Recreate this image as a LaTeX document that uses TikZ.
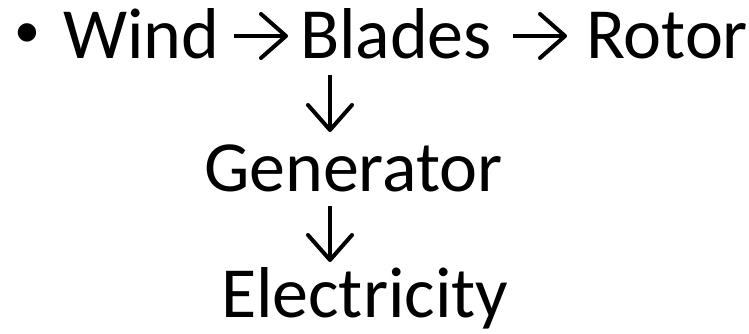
\documentclass[tikz,border=0pt]{standalone}
\usepackage{fontspec}
\setmainfont{Carlito}
\usetikzlibrary{arrows.meta}
\begin{document}
\begin{tikzpicture}[x=1pt,y=-1pt,
  txt/.style={anchor=base west,inner sep=0pt,outer sep=0pt,text height=46pt,text depth=0pt,font=\fontsize{72}{72}\selectfont},
  arr/.style={line width=4pt,-{Straight Barb[length=25pt,width=44pt,line width=4pt,round]}}]
\useasboundingbox (0,0) rectangle (749,334);
\node[txt,font=\fontsize{52}{52}\selectfont] (bul) at (14,48) {•};
\node[txt] (wind) at (63,59) {Wind};
\node[txt] (blades) at (300,59) {Blades};
\node[txt] (rotor) at (586,59) {Rotor};
\node[txt] (gen) at (204,191) {Generator};
\node[txt] (elec) at (221,317) {Electricity};
\coordinate (d1) at (330,75);
\draw[arr,shorten <=15pt,shorten >=12pt] (wind.east) -- (blades.west);
\draw[arr,shorten <=21pt,shorten >=19pt] (blades.east) -- (rotor.west);
\draw[arr,shorten >=13pt] (d1) -- (d1 |- gen.north);
\draw[arr,shorten <=15pt,shorten >=9pt] (d1 |- gen.south) -- (d1 |- elec.north);
\end{tikzpicture}
\end{document}
